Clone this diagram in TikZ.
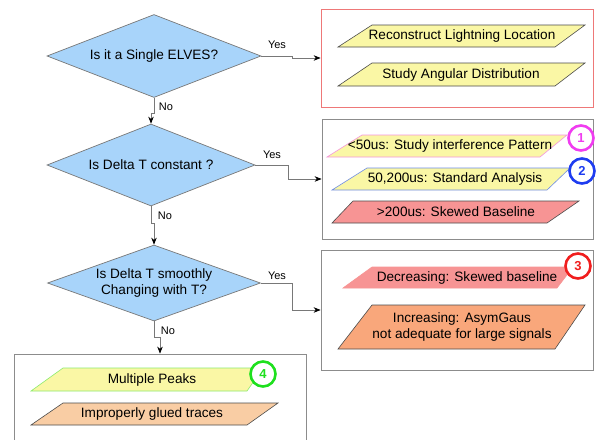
\documentclass[tikz,border=0pt]{standalone}
\usepackage{fontspec}
\setmainfont{Liberation Sans}
\usetikzlibrary{shapes.geometric,arrows.meta}
\definecolor{dfill}{RGB}{168,212,250}
\definecolor{dline}{RGB}{120,120,120}
\definecolor{yfill}{RGB}{250,247,165}
\definecolor{rfill}{RGB}{247,148,148}
\definecolor{ofill}{RGB}{249,167,123}
\definecolor{pfill}{RGB}{249,205,164}
\definecolor{boxred}{RGB}{238,120,120}
\definecolor{boxgray}{RGB}{140,140,140}
\definecolor{cmag}{RGB}{240,60,240}
\definecolor{cblue}{RGB}{30,60,240}
\definecolor{cred}{RGB}{240,30,30}
\definecolor{cgreen}{RGB}{30,224,30}
\definecolor{bpink}{RGB}{245,150,220}
\definecolor{bblue}{RGB}{110,140,230}
\definecolor{bgreen}{RGB}{140,235,110}
\tikzset{
  dia/.style={diamond, aspect=2.8, inner sep=0pt, fill=dfill, draw=dline, line width=0.7pt,
    font=\fontsize{13.6}{16}\selectfont, align=center},
  boxst/.style={rectangle, line width=0.8pt, inner sep=0pt},
  pstyle/.style={line width=0.6pt},
  ptext/.style={font=\fontsize{13.6}{16}\selectfont, align=center, inner sep=0pt},
  lbl/.style={font=\fontsize{11}{13}\selectfont, inner sep=0pt},
  numc/.style={circle, minimum size=25pt, inner sep=0pt, fill=white, line width=2.6pt,
    font=\fontsize{13}{15}\selectfont\bfseries},
  conn/.style={draw=dline, line width=0.7pt, -{Stealth[length=7pt,width=5.5pt,color=black]}}
}
\begin{document}
\begin{tikzpicture}[x=1pt,y=-1pt]
\useasboundingbox (0,0) rectangle (596,439);
\fill[white] (0,0) rectangle (596,439);
\begin{scope}
\clip (0,0) rectangle (596,439);
% boxes
\node[boxst, draw=boxred, minimum width=272pt, minimum height=98pt] (box1) at (457,58) {};
\node[boxst, draw=boxgray, minimum width=271pt, minimum height=120pt] (box2) at (457.5,179) {};
\node[boxst, draw=boxgray, minimum width=272pt, minimum height=120pt] (box3) at (457,310) {};
\node[boxst, draw=boxgray, minimum width=292pt, minimum height=110pt] (box4) at (160,409) {};
\end{scope}

% diamonds
\node[dia, minimum width=214pt, minimum height=83pt] (d1) at (154,56) {Is it a Single ELVES?};
\node[dia, minimum width=208pt, minimum height=82pt] (d2) at (151,165) {Is Delta T constant ?};
\node[dia, minimum width=213pt, minimum height=76pt] (d3) at (154,283) {Is Delta T smoothly\\Changing with T?};

% connectors
\draw[conn] (d1.east) -- ++(31,0) |- (box1.west);
\draw[conn] (d2.east) -- ++(33,0) |- (box2.west);
\draw[conn] (d3.east) -- ++(31,0) |- (box3.west);
\draw[conn] (d1.south) -- ++(0,15) -| (d2.north);
\draw[conn] (d2.south) -- ++(0,17) -| (d3.north);
\draw[conn] (d3.south) -- ++(0,16) -| (box4.north);

\node[lbl] (y1) at (277,45) {Yes};
\node[lbl] (y2) at (272,155) {Yes};
\node[lbl] (y3) at (277,276) {Yes};
\node[lbl] (n1) at (166,107) {No};
\node[lbl] (n2) at (165,216) {No};
\node[lbl] (n3) at (168,331) {No};

% box 1 contents
\draw[pstyle, draw=black!70, fill=yfill] (338,47) -- (372,25) -- (585,25) -- (555,47) -- cycle;
\node[ptext] (p1a) at (462,36) {Reconstruct Lightning Location};
\draw[pstyle, draw=black!70, fill=yfill] (338,86) -- (372,63) -- (585,63) -- (555,86) -- cycle;
\node[ptext] (p1b) at (461,74.5) {Study Angular Distribution};

% box 2 contents
\draw[pstyle, draw=bpink, fill=yfill] (327,157) -- (362,135) -- (567,135) -- (540,157) -- cycle;
\node[ptext] (p2a) at (450,146) {<50us: Study interference Pattern};
\draw[pstyle, draw=bblue, fill=yfill] (332,190) -- (367,168) -- (570,168) -- (547,190) -- cycle;
\node[ptext] (p2b) at (455,179) {50,200us: Standard Analysis};
\draw[pstyle, draw=black!70, fill=rfill] (332,223) -- (353,201) -- (579,201) -- (547,223) -- cycle;
\node[ptext] (p2c) at (456,212) {>200us: Skewed Baseline};
\node[numc, draw=cmag, text=cmag] (c1) at (581,138) {1};
\node[numc, draw=cblue, text=cblue] (c2) at (582,171) {2};

% box 3 contents
\draw[pstyle, draw=rfill, fill=rfill] (343,288) -- (372,267) -- (573,267) -- (557,288) -- cycle;
\node[ptext] (p3a) at (467,277.5) {Decreasing: Skewed baseline};
\draw[pstyle, draw=black!70, fill=ofill] (338,349) -- (372,305) -- (585,305) -- (555,349) -- cycle;
\node[ptext] (p3b) at (462,327) {Increasing: AsymGaus\\not adequate for large signals};
\node[numc, draw=cred, text=cred] (c3) at (578,266) {3};

% box 4 contents
\draw[pstyle, draw=bgreen, fill=yfill] (31,391) -- (63,368) -- (263,368) -- (247,391) -- cycle;
\node[ptext] (p4a) at (152,380) {Multiple Peaks};
\draw[pstyle, draw=black!70, fill=pfill] (31,425) -- (63,403) -- (278,403) -- (247,425) -- cycle;
\node[ptext] (p4b) at (152,414) {Improperly glued traces};
\node[numc, draw=cgreen, text=cgreen] (c4) at (263,374) {4};
\end{tikzpicture}
\end{document}
